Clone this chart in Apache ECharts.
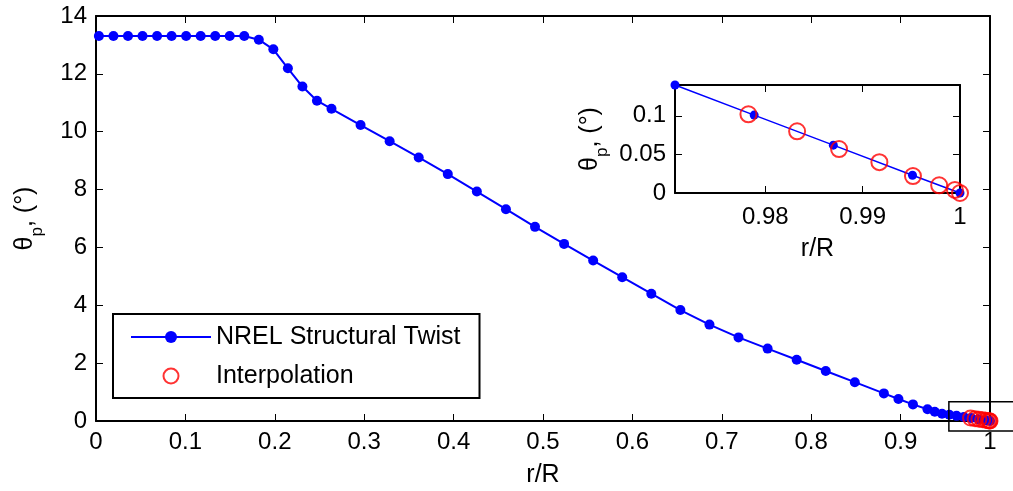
<!DOCTYPE html>
<html>
<head>
<meta charset="utf-8">
<script src="https://cdn.jsdelivr.net/npm/echarts@6/dist/echarts.min.js"></script>
<style>
html,body{margin:0;padding:0;background:#fff;}
#c{width:1013px;height:491px;}
</style>
</head>
<body>
<div id="c"></div>
<script>
// NREL structural twist (r/R, degrees)
const twistR = [0.00325,0.01951,0.03577,0.05203,0.06829,0.08455,0.10081,0.11707,0.13335,0.14959,0.16585,
  0.18211,0.19837,0.21465,0.23089,0.24715,0.26341,0.29595,0.32846,0.36098,0.39350,0.42602,0.45855,0.49106,
  0.52358,0.55610,0.58862,0.62115,0.65366,0.68618,0.71870,0.75122,0.78376,0.81626,0.84878,0.88130,0.89756,
  0.91382,0.93008,0.93821,0.94636,0.95447,0.96260,0.97073,0.97886,0.98699,0.99512,1.00000];
const twistDeg = [13.308,13.308,13.308,13.308,13.308,13.308,13.308,13.308,13.308,13.308,13.308,
  13.181,12.848,12.192,11.561,11.072,10.792,10.232,9.672,9.110,8.534,7.932,7.321,6.711,
  6.122,5.546,4.971,4.401,3.834,3.332,2.890,2.503,2.116,1.730,1.342,0.954,0.760,
  0.574,0.404,0.319,0.253,0.216,0.178,0.140,0.101,0.062,0.023,0.000];
// Interpolated points
const interpR = [0.97827,0.98327,0.98758,0.99172,0.99517,0.99786,0.99948,1.00000];
const interpDeg = [0.102,0.080,0.057,0.040,0.022,0.010,0.004,0.000];
// Tick values
const mainXTicks = [0,0.1,0.2,0.3,0.4,0.5,0.6,0.7,0.8,0.9,1];
const mainYTicks = [0,2,4,6,8,10,12,14];
const insetXTicks = [0.98,0.99,1];
const insetYTicks = [0,0.05,0.1];
// Inset limits and highlight box (data units)
const insetXRange = [0.97073, 1];
const insetYRange = [0, 0.14];
const boxCorner1 = [0.954, 0.667];
const boxCorner2 = [1.04, -0.346];

const FONT = 'Liberation Sans, Arial, sans-serif';
const TICK = 24, LBL = 25;
const blue = '#0000ff', red = '#ff0000';

const mainPts = twistR.map((r,i)=>[r, twistDeg[i]]);
const intPts = interpR.map((r,i)=>[r, interpDeg[i]]);

const nameRich = {
  a: {fontSize: LBL, fontFamily: FONT, color: '#000', lineHeight: 32},
  b: {fontSize: 17, fontFamily: FONT, color: '#000', lineHeight: 41, verticalAlign: 'bottom'}
};
const thetaName = '{a|θ}{b|p}{a|, (°)}';

function ax(grid, pos, min, max, ticks, showLabels, name, opt) {
  return Object.assign({
    type: 'value', gridIndex: grid, position: pos, min: min, max: max,
    axisLine: {show: true, onZero: false, lineStyle: {color: '#000', width: 2}},
    axisTick: {show: true, inside: true, length: 7, customValues: ticks, lineStyle: {color: '#000', width: 1}},
    axisLabel: {show: showLabels, customValues: ticks, margin: 9, fontSize: TICK, fontFamily: FONT, color: '#000',
      formatter: v => String(+v.toFixed(4))},
    splitLine: {show: false},
    name: name || '', nameLocation: 'middle'
  }, opt || {});
}

const chart = echarts.init(document.getElementById('c'), null, {renderer: 'canvas'});
chart.setOption({
  animation: false,
  backgroundColor: '#fff',
  grid: [
    {left: 96, top: 16, right: 23, bottom: 70, containLabel: false, outerBoundsMode: 'none'},
    {left: 675, top: 85, width: 285, height: 108, containLabel: false, outerBoundsMode: 'none'}
  ],
  legend: {
    data: ['NREL Structural Twist', 'Interpolation'],
    orient: 'vertical', left: 113, top: 314,
    itemWidth: 80, itemHeight: 15, itemGap: 11,
    padding: [9, 19, 8, 17],
    borderColor: '#000', borderWidth: 2, backgroundColor: '#fff',
    textStyle: {fontSize: LBL, fontFamily: FONT, color: '#000', lineHeight: 28},
    selectedMode: false
  },
  xAxis: [
    ax(0, 'bottom', 0, 1, mainXTicks, true, 'r/R', {nameGap: 42,
      nameTextStyle: {fontSize: LBL, fontFamily: FONT, color: '#000'}}),
    ax(0, 'top', 0, 1, mainXTicks, false),
    ax(1, 'bottom', insetXRange[0], insetXRange[1], insetXTicks, true, 'r/R', {nameGap: 44,
      nameTextStyle: {fontSize: LBL, fontFamily: FONT, color: '#000'},
      axisLabel: {show: true, customValues: insetXTicks, margin: 12, fontSize: TICK, fontFamily: FONT, color: '#000',
        formatter: v => String(+v.toFixed(4))}}),
    ax(1, 'top', insetXRange[0], insetXRange[1], insetXTicks, false)
  ],
  yAxis: [
    ax(0, 'left', 0, 14, mainYTicks, true, thetaName, {nameGap: 50, nameRotate: 90,
      nameTextStyle: {rich: nameRich}}),
    ax(0, 'right', 0, 14, mainYTicks, false),
    ax(1, 'left', insetYRange[0], insetYRange[1], insetYTicks, true, thetaName, {nameGap: 64, nameRotate: 90,
      nameTextStyle: {rich: nameRich}}),
    ax(1, 'right', insetYRange[0], insetYRange[1], insetYTicks, false)
  ],
  series: [
    {name: 'NREL Structural Twist', type: 'line', xAxisIndex: 0, yAxisIndex: 0, data: mainPts,
      symbol: 'circle', symbolSize: 10, showSymbol: true, clip: true,
      lineStyle: {color: blue, width: 2}, itemStyle: {color: blue}, z: 3},
    {name: 'Interpolation', type: 'scatter', xAxisIndex: 0, yAxisIndex: 0, data: intPts,
      symbol: 'circle', symbolSize: 15, clip: false,
      itemStyle: {color: 'rgba(0,0,0,0)', borderColor: red, borderWidth: 2}, z: 4},
    {name: 'inset-twist', type: 'line', xAxisIndex: 2, yAxisIndex: 2, data: mainPts,
      symbol: 'circle', symbolSize: 9, showSymbol: true, clip: true,
      lineStyle: {color: blue, width: 1.5}, itemStyle: {color: blue}, z: 3},
    {name: 'inset-interp', type: 'scatter', xAxisIndex: 2, yAxisIndex: 2, data: intPts,
      symbol: 'circle', symbolSize: 16, clip: false,
      itemStyle: {color: 'rgba(0,0,0,0)', borderColor: red, borderWidth: 2}, z: 4}
  ]
});

const p1 = chart.convertToPixel({xAxisIndex: 0, yAxisIndex: 0}, boxCorner1);
const p2 = chart.convertToPixel({xAxisIndex: 0, yAxisIndex: 0}, boxCorner2);
chart.setOption({
  graphic: [{
    type: 'rect', z: 10, silent: true,
    shape: {x: p1[0], y: p1[1], width: p2[0]-p1[0], height: p2[1]-p1[1]},
    style: {fill: 'none', stroke: '#000', lineWidth: 1.5}
  }]
});
</script>
</body>
</html>
